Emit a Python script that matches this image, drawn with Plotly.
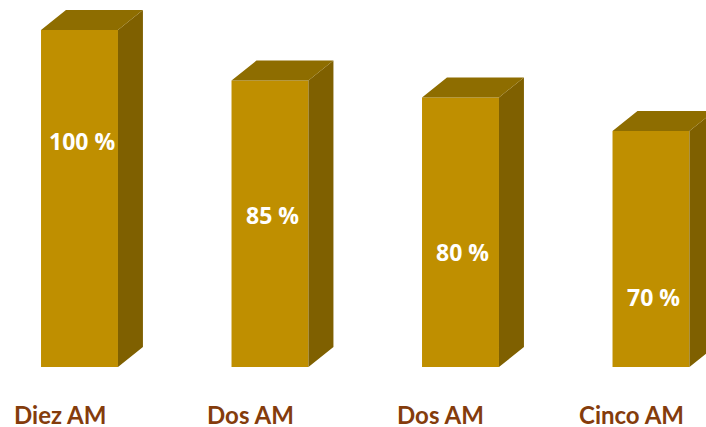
import plotly.graph_objects as go

categories = ["Diez AM", "Dos AM", "Dos AM", "Cinco AM"]
values = [100, 85, 80, 70]
value_labels = ["100 %", "85 %", "80 %", "70 %"]

# style / layout constants
label_y = [67, 45, 34, 20.8]
bar_w = 0.404
dx = 0.131
dy = 5.93
front_c = "#BF8F00"
side_c = "#7F6000"
top_c = "#8E6D00"

xs = list(range(len(values)))

fig = go.Figure()
fig.add_trace(go.Bar(x=xs, y=values, width=bar_w, marker=dict(color=front_c, line=dict(width=0)),
                     hoverinfo="skip"))

sx, sy, tx, ty = [], [], [], []
for x, v in zip(xs, values):
    r = x + bar_w / 2
    l = x - bar_w / 2
    sx += [r, r + dx, r + dx, r, r, None]
    sy += [0, dy, v + dy, v, 0, None]
    tx += [l, r, r + dx, l + dx, l, None]
    ty += [v, v, v + dy, v + dy, v, None]

fig.add_trace(go.Scatter(x=sx, y=sy, fill="toself", fillcolor=side_c, mode="lines",
                         line=dict(width=0, color=side_c), hoverinfo="skip"))
fig.add_trace(go.Scatter(x=tx, y=ty, fill="toself", fillcolor=top_c, mode="lines",
                         line=dict(width=0, color=top_c), hoverinfo="skip"))

for x, ly, t in zip(xs, label_y, value_labels):
    fig.add_annotation(x=x, y=ly, text=t, showarrow=False, xshift=2,
                       font=dict(family="Open Sans", size=23, color="white", weight="bold"))

for x, c in zip(xs, categories):
    fig.add_annotation(x=x, y=-14.3, text=c, showarrow=False, xshift=-20, yshift=1,
                       height=24, valign="middle",
                       font=dict(family="Lato", size=24, color="#843C0C", weight="bold"))

fig.update_layout(
    width=706, height=427, margin=dict(l=0, r=0, t=0, b=0),
    paper_bgcolor="white", plot_bgcolor="white", showlegend=False,
    xaxis=dict(range=[-0.4173, 3.2887], visible=False, fixedrange=True),
    yaxis=dict(range=[-17.8, 108.9], visible=False, fixedrange=True),
)

fig.write_html("out.html", config={"displayModeBar": False},
               post_script="document.body.style.margin='0';document.body.style.overflow='hidden';")
